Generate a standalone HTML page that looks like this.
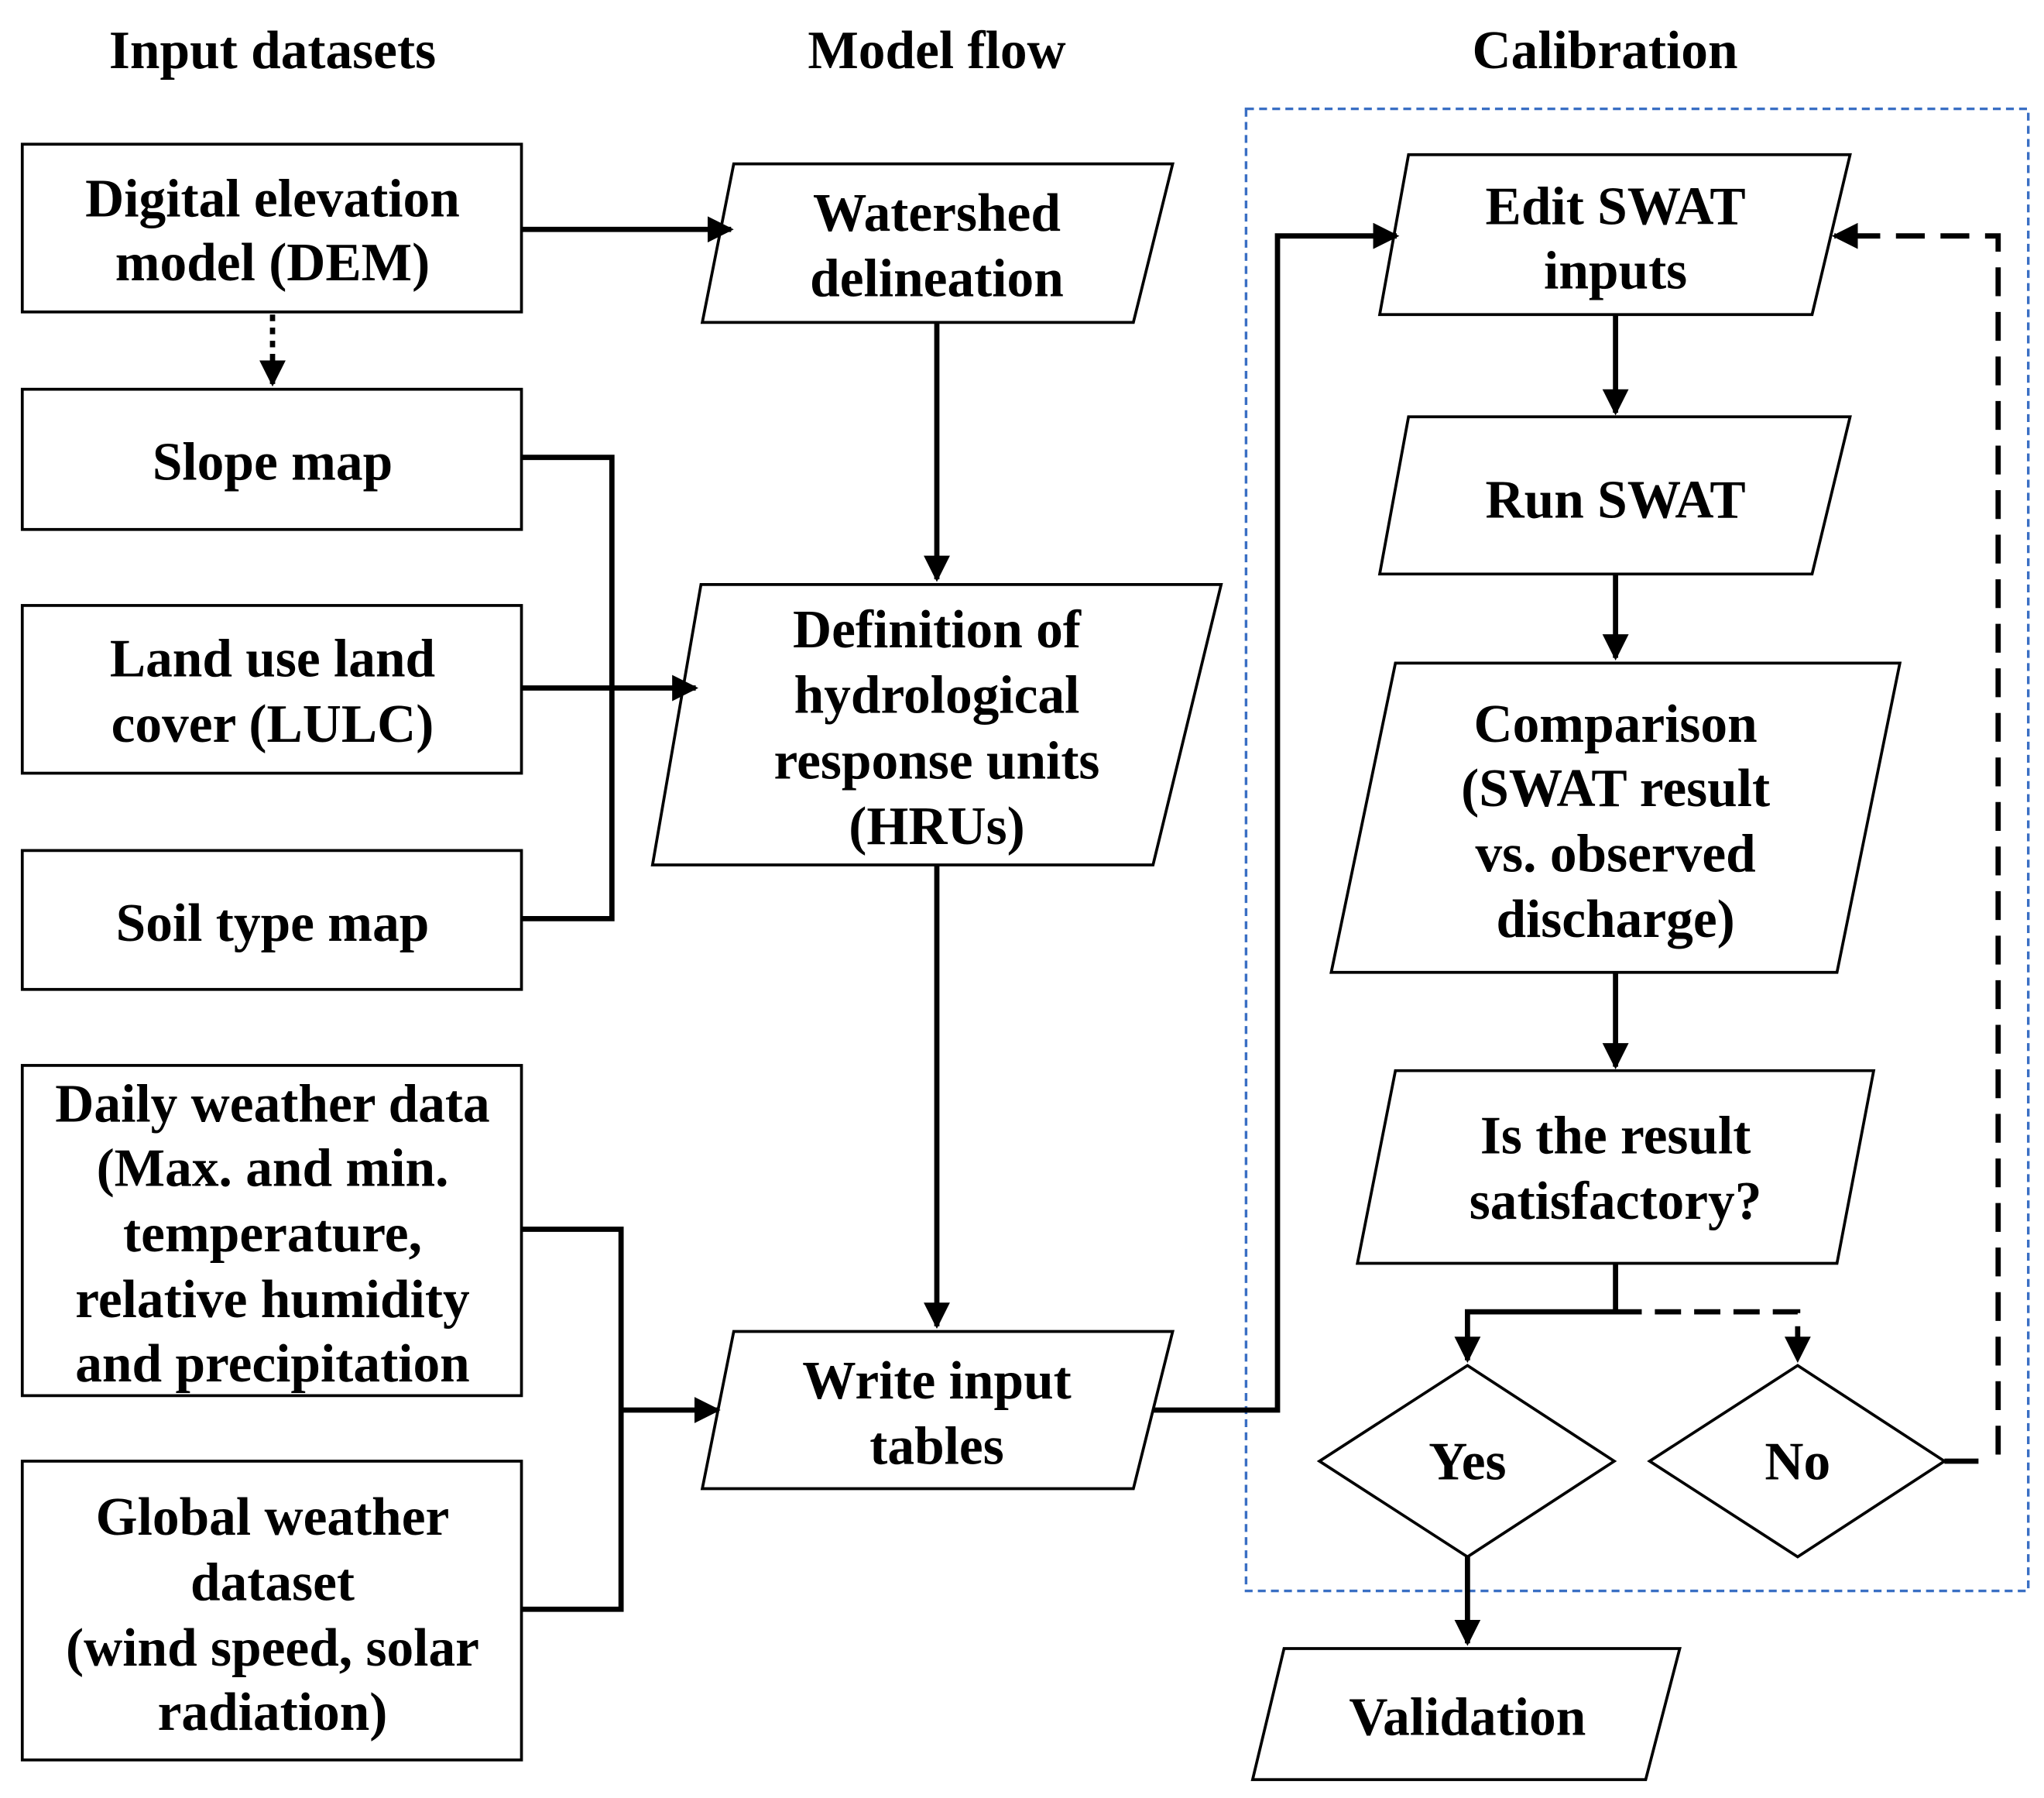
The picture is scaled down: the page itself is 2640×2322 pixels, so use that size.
<!DOCTYPE html>
<html><head><meta charset="utf-8"><style>html,body{margin:0;padding:0;background:#fff}svg{display:block}</style></head>
<body>
<svg width="2640" height="2322" viewBox="0 0 1560 1372" xmlns="http://www.w3.org/2000/svg">
<defs>
<marker id="a" viewBox="0 0 10 10" refX="9" refY="5" markerWidth="5" markerHeight="5" orient="auto" markerUnits="strokeWidth"><path d="M0,0 L10,5 L0,10 z" fill="#000"/></marker>
</defs>
<rect width="1560" height="1372" fill="#fff"/>
<g font-family="Liberation Serif, serif" font-weight="bold" font-size="41" text-anchor="middle" fill="#000">
<text x="208" y="52">Input datasets</text>
<text x="715" y="52">Model flow</text>
<text x="1225" y="52">Calibration</text>
</g>
<rect x="951" y="83" width="597" height="1131" fill="none" stroke="#3a6fc4" stroke-width="2" stroke-dasharray="6,4"/>
<g fill="#fff" stroke="#000" stroke-width="2.2">
<rect x="17" y="110" width="381" height="128"/>
<rect x="17" y="297" width="381" height="107"/>
<rect x="17" y="462" width="381" height="128"/>
<rect x="17" y="649" width="381" height="106"/>
<rect x="17" y="813" width="381" height="252"/>
<rect x="17" y="1115" width="381" height="228"/>
<polygon points="560,125 895,125 865,246 536,246"/>
<polygon points="535,446 932,446 880,660 498,660"/>
<polygon points="560,1016 895,1016 865,1136 536,1136"/>
<polygon points="1075,118 1412,118 1383,240 1053,240"/>
<polygon points="1075,318 1412,318 1383,438 1053,438"/>
<polygon points="1065,506 1450,506 1402,742 1016,742"/>
<polygon points="1065,817 1430,817 1402,964 1036,964"/>
<polygon points="1120,1042 1232,1115 1120,1188 1007,1115"/>
<polygon points="1372,1042 1484,1115 1372,1188 1259,1115"/>
<polygon points="980,1258 1282,1258 1256,1358 956,1358"/>
</g>
<g fill="none" stroke="#000" stroke-width="4">
<path d="M208,240 V293" stroke-dasharray="5,5" marker-end="url(#a)"/>
<path d="M398,175 H558" marker-end="url(#a)"/>
<path d="M398,349 H467 V701 H398"/>
<path d="M398,525 H531" marker-end="url(#a)"/>
<path d="M398,938 H474 V1228 H398"/>
<path d="M474,1076 H548" marker-end="url(#a)"/>
<path d="M715,246 V442" marker-end="url(#a)"/>
<path d="M715,660 V1012" marker-end="url(#a)"/>
<path d="M880,1076 H975 V180 H1066" marker-end="url(#a)"/>
<path d="M1233,240 V315" marker-end="url(#a)"/>
<path d="M1233,438 V502" marker-end="url(#a)"/>
<path d="M1233,742 V814" marker-end="url(#a)"/>
<path d="M1233,964 V1001 H1120 V1038" marker-end="url(#a)"/>
<path d="M1233,1001 H1372 V1038" stroke-dasharray="20,10" marker-end="url(#a)"/>
<path d="M1120,1188 V1254" marker-end="url(#a)"/>
<path d="M1484,1115 H1510"/>
<path d="M1525,1110 V180 H1400" stroke-dasharray="22,12" marker-end="url(#a)"/>
</g>
<g font-family="Liberation Serif, serif" font-weight="bold" font-size="41" text-anchor="middle" fill="#000">
<text x="208" y="165">Digital elevation</text>
<text x="208" y="214">model (DEM)</text>
<text x="208" y="366">Slope map</text>
<text x="208" y="516">Land use land</text>
<text x="208" y="566">cover (LULC)</text>
<text x="208" y="718">Soil type map</text>
<text x="208" y="856">Daily weather data</text>
<text x="208" y="905">(Max. and min.</text>
<text x="208" y="955">temperature,</text>
<text x="208" y="1005">relative humidity</text>
<text x="208" y="1054">and precipitation</text>
<text x="208" y="1171">Global weather</text>
<text x="208" y="1221">dataset</text>
<text x="208" y="1271">(wind speed, solar</text>
<text x="208" y="1320">radiation)</text>
<text x="715" y="176">Watershed</text>
<text x="715" y="226">delineation</text>
<text x="715" y="494">Definition of</text>
<text x="715" y="544">hydrological</text>
<text x="715" y="594">response units</text>
<text x="715" y="644">(HRUs)</text>
<text x="715" y="1067">Write input</text>
<text x="715" y="1117">tables</text>
<text x="1233" y="171">Edit SWAT</text>
<text x="1233" y="220">inputs</text>
<text x="1233" y="395">Run SWAT</text>
<text x="1233" y="566">Comparison</text>
<text x="1233" y="615">(SWAT result</text>
<text x="1233" y="665">vs. observed</text>
<text x="1233" y="715">discharge)</text>
<text x="1233" y="880">Is the result</text>
<text x="1233" y="930">satisfactory?</text>
<text x="1120" y="1129">Yes</text>
<text x="1372" y="1129">No</text>
<text x="1120" y="1324">Validation</text>
</g>
</svg>
</body></html>
